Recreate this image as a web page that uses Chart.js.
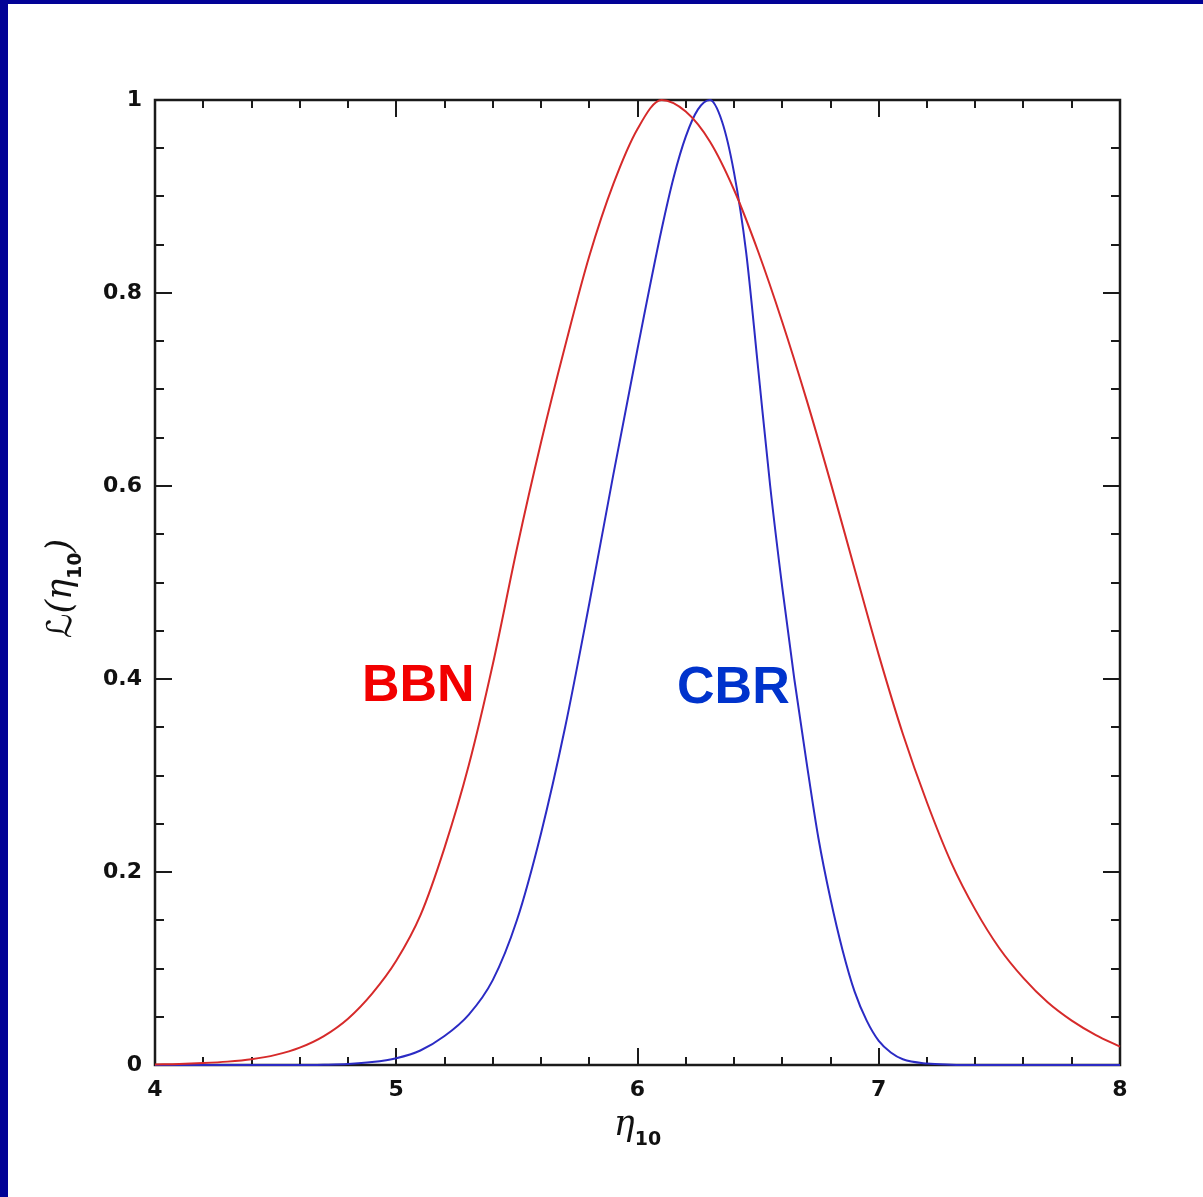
<!DOCTYPE html>
<html>
<head>
<meta charset="utf-8">
<script src="https://cdn.jsdelivr.net/npm/chart.js@4.4.1/dist/chart.umd.min.js"></script>
<style>
html, body { margin: 0; padding: 0; background: #020296; width: 1203px; height: 1197px; overflow: hidden; }
#wrap { position: absolute; left: 8px; top: 4px; width: 1195px; height: 1193px; background: #fff; }
</style>
</head>
<body>
<div id="wrap"><canvas id="c" width="1195" height="1193"></canvas></div>
<script>
// BBN likelihood
const bbnEta = [4.0, 4.1, 4.2, 4.3, 4.4, 4.5, 4.6, 4.7, 4.8, 4.9,
                5.0, 5.1, 5.2, 5.3, 5.4, 5.5, 5.6, 5.7, 5.8, 5.9,
                6.0, 6.1, 6.2, 6.3, 6.4, 6.5, 6.6, 6.7, 6.8, 6.9,
                7.0, 7.1, 7.2, 7.3, 7.4, 7.5, 7.6, 7.7, 7.8, 7.9, 8.0];
const bbnL = [0.0005, 0.001, 0.002, 0.0035, 0.006, 0.0105, 0.018, 0.030, 0.048, 0.074,
              0.108, 0.155, 0.225, 0.310, 0.415, 0.535, 0.645, 0.745, 0.838, 0.913,
              0.970, 1.000, 0.988, 0.957, 0.907, 0.843, 0.770, 0.690, 0.604, 0.514,
              0.425, 0.343, 0.272, 0.210, 0.161, 0.121, 0.090, 0.065, 0.046, 0.031, 0.019];

// CBR likelihood
const cbrEta = [4.0, 4.2, 4.4, 4.6, 4.7, 4.8, 4.9, 5.0, 5.1, 5.2, 5.3, 5.4, 5.5, 5.6, 5.7,
                5.8, 5.9, 6.0, 6.1, 6.15, 6.2, 6.25, 6.3, 6.35, 6.4, 6.45, 6.5, 6.55, 6.6,
                6.65, 6.7, 6.75, 6.8, 6.85, 6.9, 6.95, 7.0, 7.05, 7.1, 7.2, 7.3, 7.4, 7.6, 7.8, 8.0];
const cbrL = [0, 0, 0, 0, 0.0003, 0.001, 0.003, 0.007, 0.015, 0.030, 0.052, 0.088, 0.150, 0.240, 0.350,
              0.478, 0.612, 0.742, 0.866, 0.920, 0.962, 0.990, 1.000, 0.978, 0.925, 0.843, 0.722, 0.600, 0.495,
              0.400, 0.315, 0.235, 0.172, 0.119, 0.076, 0.046, 0.025, 0.013, 0.006, 0.0015, 0.0003, 0, 0, 0, 0];

const curveLabels = [
  { text: 'BBN', x: 4.858, y: 0.377, color: '#f20000' },
  { text: 'CBR', x: 6.164, y: 0.375, color: '#0033cc' }
];

const toPts = (xs, ys) => xs.map((v, i) => ({ x: v, y: ys[i] }));

const serifIt = 'italic 35px "DejaVu Serif", serif';
const subFont = 'bold 19px "DejaVu Sans", sans-serif';

// draws text pieces [text, font, dy] in a row, centred on 0
function drawPieces(ctx, pieces) {
  let w = 0;
  pieces.forEach(p => { ctx.font = p[1]; w += ctx.measureText(p[0]).width; });
  let cx = -w / 2;
  pieces.forEach(p => {
    ctx.font = p[1];
    ctx.fillText(p[0], cx, p[2]);
    cx += ctx.measureText(p[0]).width;
  });
}

// frame with inward ticks on all four sides, curve labels and axis titles
const frameTicks = {
  id: 'frameTicks',
  beforeDatasetsDraw(chart) {
    const { ctx, chartArea: a, scales: { x, y } } = chart;
    ctx.save();
    ctx.strokeStyle = '#1a1a1a';
    ctx.lineWidth = 2.5;
    ctx.strokeRect(a.left, a.top, a.right - a.left, a.bottom - a.top);
    ctx.lineWidth = 2;
    ctx.beginPath();
    for (let i = 0; i <= 20; i++) {
      const px = Math.round(x.getPixelForValue(4 + i * 0.2));
      const len = i % 5 === 0 ? 17 : 8;
      ctx.moveTo(px, a.bottom); ctx.lineTo(px, a.bottom - len);
      ctx.moveTo(px, a.top); ctx.lineTo(px, a.top + len);
    }
    for (let i = 0; i <= 20; i++) {
      const py = Math.round(y.getPixelForValue(i * 0.05));
      const len = i % 4 === 0 ? 17 : 9;
      ctx.moveTo(a.left, py); ctx.lineTo(a.left + len, py);
      ctx.moveTo(a.right, py); ctx.lineTo(a.right - len, py);
    }
    ctx.stroke();
    ctx.restore();
  },
  afterDatasetsDraw(chart) {
    const { ctx, chartArea: a, scales: { x, y } } = chart;
    ctx.save();
    ctx.font = 'bold 52px "Liberation Sans", Arial, sans-serif';
    ctx.textBaseline = 'alphabetic';
    ctx.textAlign = 'left';
    curveLabels.forEach(l => {
      ctx.fillStyle = l.color;
      ctx.fillText(l.text, x.getPixelForValue(l.x), y.getPixelForValue(l.y));
    });

    ctx.fillStyle = '#111';
    // x title
    ctx.save();
    ctx.translate((a.left + a.right) / 2, 1131);
    drawPieces(ctx, [['η', serifIt, 0], ['10', subFont, 10]]);
    ctx.restore();
    // y title
    ctx.save();
    ctx.translate(63, (a.top + a.bottom) / 2 + 6);
    ctx.rotate(-Math.PI / 2);
    drawPieces(ctx, [['ℒ', 'italic 34px "DejaVu Sans", serif', 0], ['(', serifIt, 0],
                     ['η', serifIt, 0], ['10', subFont, 10], [')', serifIt, 0]]);
    ctx.restore();
    ctx.restore();
  }
};

const tickFont = { family: '"DejaVu Sans", sans-serif', weight: 'bold', size: 22 };

new Chart(document.getElementById('c'), {
  type: 'line',
  data: {
    datasets: [
      {
        label: 'BBN',
        data: toPts(bbnEta, bbnL),
        borderColor: '#d62a2a',
        borderWidth: 2,
        pointRadius: 0,
        cubicInterpolationMode: 'monotone',
        clip: false
      },
      {
        label: 'CBR',
        data: toPts(cbrEta, cbrL),
        borderColor: '#2b2bc4',
        borderWidth: 2,
        pointRadius: 0,
        cubicInterpolationMode: 'monotone',
        clip: false
      }
    ]
  },
  options: {
    responsive: false,
    animation: false,
    layout: { padding: { left: 0, top: 96, right: 83, bottom: 0 } },
    plugins: { legend: { display: false }, tooltip: { enabled: false } },
    scales: {
      x: {
        type: 'linear',
        min: 4, max: 8,
        grid: { display: false, drawTicks: false },
        border: { display: false },
        ticks: { stepSize: 1, padding: 12, color: '#111', font: tickFont },
        afterFit: s => { s.height = 132; }
      },
      y: {
        min: 0, max: 1,
        grid: { display: false, drawTicks: false },
        border: { display: false },
        ticks: {
          stepSize: 0.2,
          padding: 13,
          color: '#111',
          font: tickFont,
          callback: v => String(+v.toFixed(2))
        },
        afterFit: s => { s.width = 147; }
      }
    }
  },
  plugins: [frameTicks]
});
</script>
</body>
</html>
